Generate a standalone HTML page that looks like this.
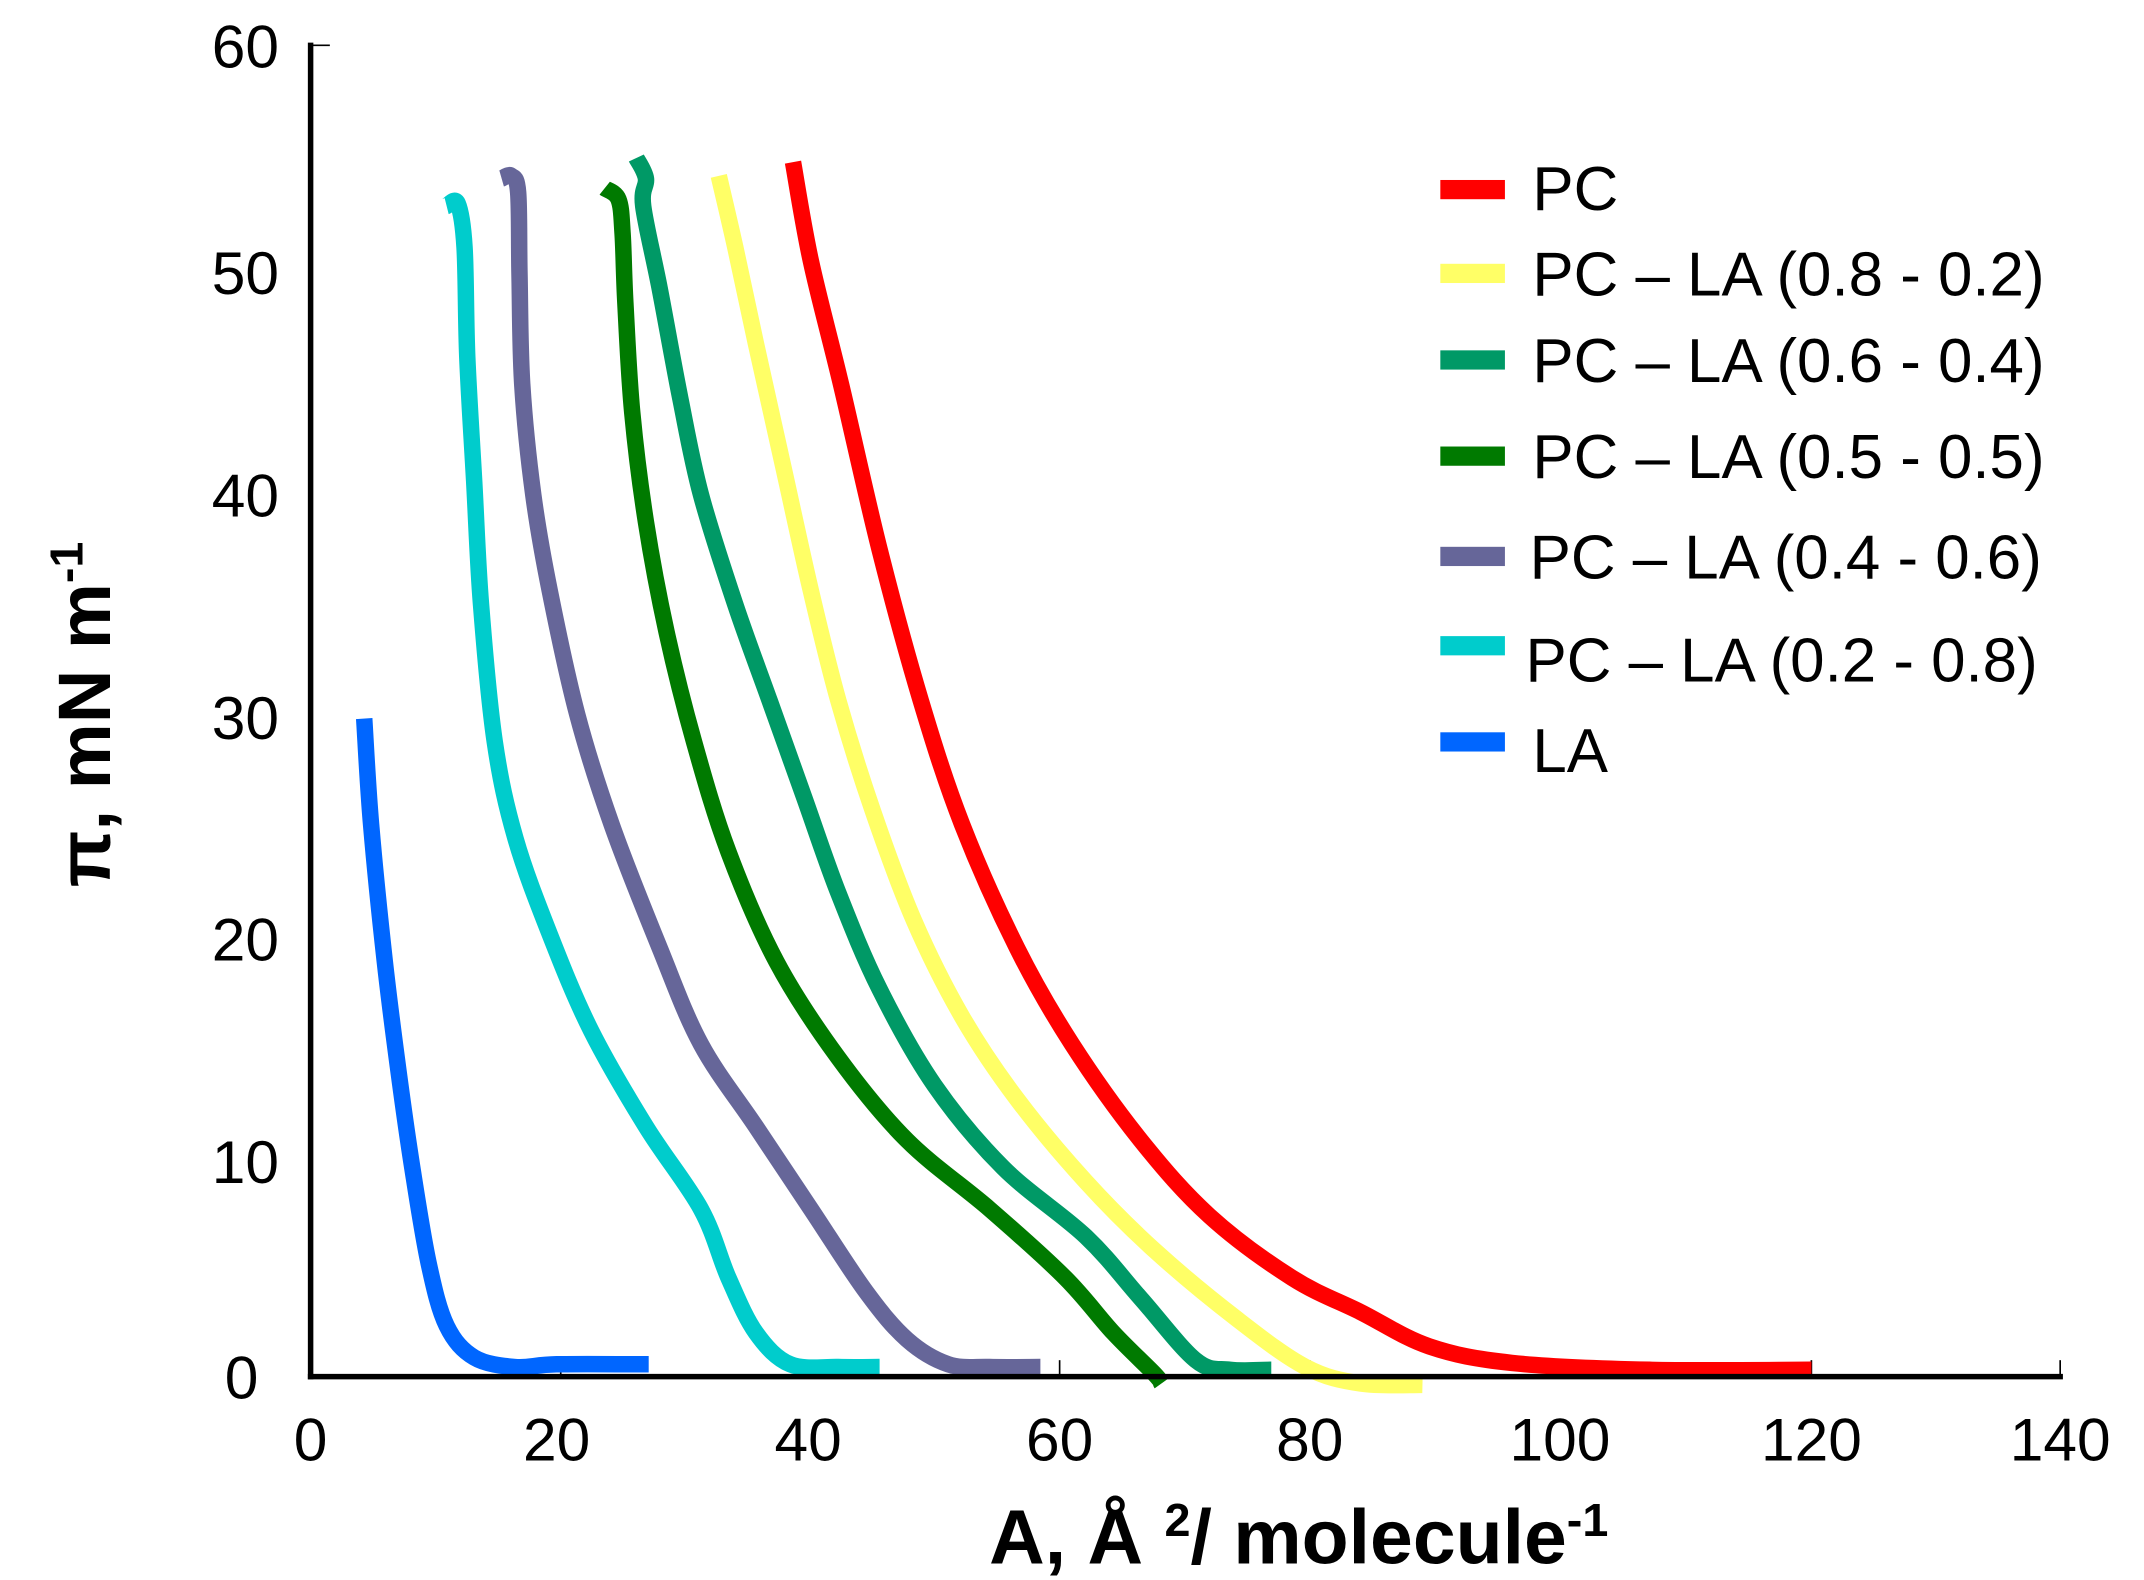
<!DOCTYPE html>
<html><head><meta charset="utf-8"><style>html,body{margin:0;padding:0;background:#fff}svg{display:block}</style></head>
<body>
<svg width="2144" height="1580" viewBox="0 0 1560 1150" preserveAspectRatio="none" xmlns="http://www.w3.org/2000/svg" font-family="Liberation Sans, sans-serif">
<rect width="1560" height="1150" fill="#fff"/>
<g stroke="#000" stroke-width="1.2">
<line x1="226" y1="33" x2="240" y2="33"/>
<line x1="408" y1="1002" x2="408" y2="990"/><line x1="590" y1="1002" x2="590" y2="990"/>
<line x1="771" y1="1002" x2="771" y2="990"/><line x1="953" y1="1002" x2="953" y2="990"/>
<line x1="1135" y1="1002" x2="1135" y2="990"/><line x1="1318" y1="1002" x2="1318" y2="990"/>
<line x1="1499" y1="1002" x2="1499" y2="990"/>
</g>
<g id="curves" fill="none" stroke-width="12" stroke-linejoin="round">
<polyline stroke="#ff0000" points="577,118 590,190 612,280 640,400 670,510 700,600 740,690 780,760 830,830 880,885 940,930 990,955 1040,980 1100,992 1200,997 1318,997"/>
<polyline stroke="#ffff66" points="523,128 535,180 550,250 570,340 590,430 610,510 635,590 665,670 700,740 740,800 790,860 840,910 900,960 950,995 990,1007 1035,1008"/>
<polyline stroke="#009966" points="463,115 470,130 468,150 480,210 495,290 510,360 535,440 560,510 585,580 610,650 640,720 680,790 730,850 790,900 830,945 870,990 895,997 925,997"/>
<polyline stroke="#007a00" points="440,137 450,145 453,170 455,220 460,300 470,380 485,460 505,540 530,620 565,700 610,770 660,830 720,880 775,930 810,970 840,1000 845,1007"/>
<polyline stroke="#666699" points="365,130 372,128 377,140 378,200 380,280 388,360 400,430 420,520 445,600 480,690 510,760 550,820 590,880 630,940 660,975 690,993 720,995 757,995"/>
<polyline stroke="#00cccc" points="325,150 333,148 338,180 340,260 345,350 350,440 360,540 375,610 400,680 430,750 470,820 510,880 530,930 550,970 575,993 610,995 640,995"/>
<polyline stroke="#0066ff" points="265,523 270,600 280,700 290,780 300,850 312,920 325,965 345,988 375,995 405,993 472,993"/>
</g>
<g stroke="#000" stroke-width="4" fill="none">
<line x1="226" y1="31" x2="226" y2="1004"/>
<line x1="224" y1="1002" x2="1501" y2="1002"/>
</g>
<g font-size="44" fill="#000" text-anchor="end">
<text x="203" y="49">60</text><text x="203" y="214">50</text><text x="203" y="376">40</text>
<text x="203" y="538">30</text><text x="203" y="699">20</text><text x="203" y="861">10</text><text x="188" y="1018">0</text>
</g>
<g font-size="44" fill="#000" text-anchor="middle">
<text x="226" y="1063">0</text><text x="405" y="1063">20</text><text x="588" y="1063">40</text>
<text x="771" y="1063">60</text><text x="953" y="1063">80</text><text x="1135" y="1063">100</text>
<text x="1318" y="1063">120</text><text x="1499" y="1063">140</text>
</g>
<text x="945" y="1138" font-size="56" font-weight="bold" text-anchor="middle">A,  Å <tspan font-size="34" dy="-20">2</tspan><tspan dy="20">/ molecule</tspan><tspan font-size="34" dy="-20">-1</tspan></text>
<text transform="translate(80,520) rotate(-90)" font-size="54" font-weight="bold" text-anchor="middle">π, mN m<tspan font-size="34" dy="-20">-1</tspan></text>
<g>
<rect x="1048" y="131" width="47" height="14" fill="#ff0000"/>
<rect x="1048" y="192" width="47" height="14" fill="#ffff66"/>
<rect x="1048" y="255" width="47" height="14" fill="#009966"/>
<rect x="1048" y="325" width="47" height="14" fill="#007a00"/>
<rect x="1048" y="398" width="47" height="14" fill="#666699"/>
<rect x="1048" y="463" width="47" height="14" fill="#00cccc"/>
<rect x="1048" y="533" width="47" height="14" fill="#0066ff"/>
</g>
<g font-size="45" fill="#000">
<text x="1115" y="153">PC</text>
<text x="1115" y="215">PC – LA (0.8 - 0.2)</text>
<text x="1115" y="278">PC – LA (0.6 - 0.4)</text>
<text x="1115" y="348">PC – LA (0.5 - 0.5)</text>
<text x="1113" y="421">PC – LA (0.4 - 0.6)</text>
<text x="1110" y="496">PC – LA (0.2 - 0.8)</text>
<text x="1115" y="562">LA</text>
</g>
</svg>
<script>
(function(){
var ns="http://www.w3.org/2000/svg";
var pls=document.querySelectorAll('#curves polyline');
pls.forEach(function(pl){
var p=pl.getAttribute('points').trim().split(/\s+/).map(function(s){return s.split(',').map(Number);});
var d='M'+p[0][0]+','+p[0][1];
for(var i=0;i<p.length-1;i++){
var p0=p[i-1]||p[i],p1=p[i],p2=p[i+1],p3=p[i+2]||p2;
var c1x=p1[0]+(p2[0]-p0[0])/6,c1y=p1[1]+(p2[1]-p0[1])/6;
var c2x=p2[0]-(p3[0]-p1[0])/6,c2y=p2[1]-(p3[1]-p1[1])/6;
d+=' C'+c1x+','+c1y+' '+c2x+','+c2y+' '+p2[0]+','+p2[1];
}
var path=document.createElementNS(ns,'path');
path.setAttribute('d',d);path.setAttribute('stroke',pl.getAttribute('stroke'));
pl.parentNode.replaceChild(path,pl);
});
})();
</script>
</body></html>
